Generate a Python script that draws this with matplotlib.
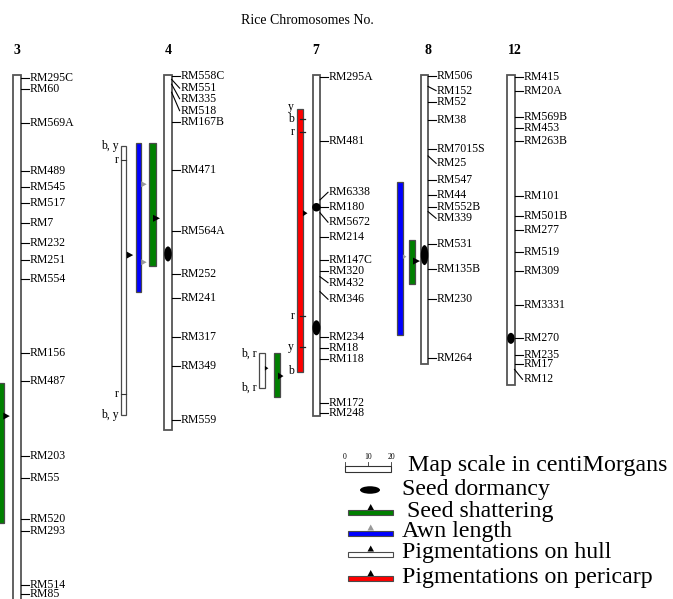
import matplotlib
matplotlib.use("Agg")
import matplotlib.pyplot as plt
from matplotlib.patches import Rectangle, Ellipse, Polygon

FONT = ["Liberation Serif", "DejaVu Serif"]

# ---------------- data (cM from top of each linkage group) ----------------
chr3_names = ["RM295C", "RM60", "RM569A", "RM489", "RM545", "RM517", "RM7", "RM232",
              "RM251", "RM554", "RM156", "RM487", "RM203", "RM55", "RM520", "RM293",
              "RM514", "RM85"]
chr3_pos = [1.2, 6.1, 20.9, 41.6, 48.6, 55.7, 64.2, 73.0, 80.4, 88.8, 121.0, 133.0,
            165.7, 175.2, 193.0, 198.3, 221.7, 225.7]
chr3_len = 234

chr4_names = ["RM558C", "RM551", "RM335", "RM518", "RM167B", "RM471", "RM564A", "RM252",
              "RM241", "RM317", "RM349", "RM559"]
chr4_pos = [0.4, 1.9, 4.0, 7.5, 20.3, 41.3, 67.8, 86.7, 97.1, 114.0, 126.5, 150.0]
chr4_len = 154.3

chr7_names = ["RM295A", "RM481", "RM6338", "RM180", "RM5672", "RM214", "RM147C", "RM320",
              "RM432", "RM346", "RM234", "RM18", "RM118", "RM172", "RM248"]
chr7_pos = [1.0, 28.6, 54.3, 57.3, 59.9, 70.3, 80.4, 85.2, 87.7, 94.2, 114.0, 118.6,
            123.5, 142.7, 147.1]
chr7_len = 148.3

chr8_names = ["RM506", "RM152", "RM52", "RM38", "RM7015S", "RM25", "RM547", "RM44",
              "RM552B", "RM339", "RM531", "RM135B", "RM230", "RM264"]
chr8_pos = [0.4, 5.0, 11.6, 19.6, 32.3, 35.2, 45.7, 52.2, 57.3, 59.4, 73.6, 84.5,
            97.5, 122.9]
chr8_len = 125.7

chr12_names = ["RM415", "RM20A", "RM569B", "RM453", "RM263B", "RM101", "RM501B", "RM277",
               "RM519", "RM309", "RM3331", "RM270", "RM235", "RM17", "RM12"]
chr12_pos = [1.0, 7.0, 18.4, 23.2, 28.6, 52.6, 61.3, 67.4, 76.8, 85.1, 100.0, 114.2,
             121.9, 125.8, 128.0]
chr12_len = 134.8

# QTL intervals: chromosome, trait, start cM, end cM, peak(s) cM
qtl_chrom = ["3", "4", "4", "4", "7", "7", "7", "8", "8"]
qtl_trait = ["shatter", "hull", "awn", "shatter", "pericarp", "hull", "shatter", "awn", "shatter"]
qtl_start = [133.9, 30.7, 29.7, 29.7, 14.9, 121.0, 121.0, 46.7, 71.7]
qtl_end = [194.8, 147.8, 94.2, 82.9, 129.0, 136.0, 139.9, 113.0, 91.0]
qtl_peaks = [[148.3], [78.3], [47.5, 81.4], [62.3], [60.1], [127.5], [130.9], [79.0], [80.9]]

# seed dormancy QTL: chromosome, cM
dorm_chrom = ["4", "7", "7", "8", "12"]
dorm_pos = [77.8, 57.5, 109.9, 78.3, 114.5]

# colour-component labels on the pigmentation bars: (bar index, text, cM)
pig_labels = [(1, "b, y", 30.7), (1, "r", 37.0), (1, "r", 138.7), (1, "b, y", 147.8),
              (4, "y", 13.8), (4, "b", 19.3), (4, "r", 24.9), (4, "r", 104.8),
              (4, "y", 118.1), (4, "b", 128.7),
              (5, "b, r", 121.0), (5, "b, r", 136.0)]

legend_labels = ["Map scale in centiMorgans", "Seed dormancy", "Seed shattering",
                 "Awn length", "Pigmentations on hull", "Pigmentations on pericarp"]
scale_ticks = [0, 10, 20]

# ---------------- layout ----------------
PX_PER_CM = 2.3
TOP_PX = 75


def cm(px):
    return (px - TOP_PX) / PX_PER_CM


W, H = 673, 599
fig = plt.figure(figsize=(W / 100, H / 100), dpi=100)
ax = fig.add_axes([0, 0, 1, 1])
ax.set_xlim(0, W)
ax.set_ylim(cm(H), cm(0))
ax.axis("off")

CHR_W = 7.2
chrom_x = {"3": 13.3, "4": 164.4, "7": 312.8, "8": 420.9, "12": 507.3}
chrom_title_x = {"3": 17, "4": 168, "7": 316, "8": 428, "12": 515}

label_shift = {
    "4": {"RM551": 5.7, "RM335": 10.3, "RM518": 15.5},
    "7": {"RM6338": 51.0, "RM5672": 64.0, "RM432": 90.3, "RM346": 97.5},
    "8": {"RM152": 6.8, "RM25": 38.4, "RM339": 62.3},
    "12": {"RM12": 132.3},
}

chroms = {
    "3": (chr3_names, chr3_pos, chr3_len),
    "4": (chr4_names, chr4_pos, chr4_len),
    "7": (chr7_names, chr7_pos, chr7_len),
    "8": (chr8_names, chr8_pos, chr8_len),
    "12": (chr12_names, chr12_pos, chr12_len),
}

EDGE = "#555555"
for key, (names, pos, length) in chroms.items():
    x0 = chrom_x[key]
    ax.add_patch(Rectangle((x0, 0), CHR_W, length, facecolor="white",
                           edgecolor=EDGE, lw=1.3, zorder=2))
    xr = x0 + CHR_W
    shifts = label_shift.get(key, {})
    for n, p in zip(names, pos):
        lab = shifts.get(n, p)
        ax.plot([xr, xr + 8], [p, lab], color="black", lw=0.8, zorder=3)
        ax.text(xr + 9, lab, n, ha="left", va="center", fontsize=8.5, family=FONT,
                zorder=4)
    ax.text(chrom_title_x[key], cm(50), key, ha="center", va="center",
            fontsize=10, fontweight="bold", family=FONT)

ax.text(307, cm(20), "Rice Chromosomes No.", ha="center", va="center",
        fontsize=10, family=FONT)

colors = {"shatter": "#008000", "awn": "#0000ff", "hull": "white", "pericarp": "#ff0000"}
arrow_col = {"shatter": "black", "awn": "#999999", "hull": "black", "pericarp": "black"}

# bar x layout (left, width, arrow x start, arrow length, arrow half-height px)
bar_layout = [(-2.0, 6.0, 3.3, 6.5, 3.5),
              (120.7, 5.5, 126.7, 6.5, 3.5),
              (135.7, 5.2, 141.2, 5.5, 3.0),
              (149.3, 6.4, 153.0, 7.0, 3.5),
              (296.7, 6.0, 302.9, 4.6, 3.0),
              (259.3, 5.4, 264.9, 3.5, 2.3),
              (274.0, 6.0, 278.0, 5.5, 3.5),
              (397.3, 5.4, 402.9, 3.5, 2.3),
              (409.3, 5.8, 413.0, 7.0, 3.5)]

for i, (c, t, s, e, pk) in enumerate(zip(qtl_chrom, qtl_trait, qtl_start, qtl_end, qtl_peaks)):
    bx, bw, axs, al, ah = bar_layout[i]
    ax.add_patch(Rectangle((bx, s), bw, e - s, facecolor=colors[t],
                           edgecolor="#4a4a4a", lw=0.9, zorder=2))
    for p in pk:
        hh = ah / PX_PER_CM
        ax.add_patch(Polygon([(axs, p - hh), (axs, p + hh), (axs + al, p)],
                             closed=True, facecolor=arrow_col[t], edgecolor="none",
                             zorder=3))

for (bi, txt, p) in pig_labels:
    bx, bw = bar_layout[bi][0], bar_layout[bi][1]
    t = qtl_trait[bi]
    ax.text(bx - 2.5, p, txt, ha="right", va="center", fontsize=8.5, family=FONT)
    if t == "hull" and txt == "r":
        ax.plot([bx, bx + bw], [p, p], color="#333333", lw=0.8, zorder=3)
    if t == "pericarp" and abs(p - qtl_start[bi]) > 2 and abs(p - qtl_end[bi]) > 1:
        ax.plot([bx + bw / 2, bx + bw + 2.5], [p, p], color="#222222", lw=0.9, zorder=3)

dorm_size = [(7.5, 15), (8.5, 8.5), (8, 15), (7.5, 20), (7.5, 11)]
for (c, p), (ew, eh) in zip(zip(dorm_chrom, dorm_pos), dorm_size):
    cx = chrom_x[c] + CHR_W / 2
    ax.add_patch(Ellipse((cx, p), ew, eh / PX_PER_CM, facecolor="black",
                         edgecolor="none", zorder=5))

# ---------------- legend ----------------
LF = 17.2
# scale bar
sx0 = 345
ax.add_patch(Rectangle((sx0, cm(466)), scale_ticks[-1] * PX_PER_CM, cm(472) - cm(466),
                       facecolor="white", edgecolor="#333333", lw=0.8))
for tk in scale_ticks:
    tx = sx0 + tk * PX_PER_CM
    ax.plot([tx, tx], [cm(462), cm(466)], color="#333333", lw=0.6)
    ax.text(tx, cm(457), str(tk), ha="center", va="center", fontsize=5.5, family=FONT)
ax.text(408, cm(465), legend_labels[0], ha="left", va="center", fontsize=LF, family=FONT)

ax.add_patch(Ellipse((370, cm(490)), 20, 7.5 / PX_PER_CM, facecolor="black",
                     edgecolor="none"))
ax.text(401.5, cm(489), legend_labels[1], ha="left", va="center", fontsize=LF, family=FONT)

leg_rows = [("shatter", 510, 407, legend_labels[2]),
            ("awn", 530.5, 401.5, legend_labels[3]),
            ("hull", 551.5, 402.5, legend_labels[4]),
            ("pericarp", 576, 402.5, legend_labels[5])]
for t, ytop, tx, lbl in leg_rows:
    ax.add_patch(Rectangle((348.3, cm(ytop)), 44.4, 5.3 / PX_PER_CM,
                           facecolor=colors[t], edgecolor="#4a4a4a", lw=0.8))
    yb = cm(ytop)
    ax.add_patch(Polygon([(367.5, yb), (374, yb), (370.7, yb - 6 / PX_PER_CM)],
                         closed=True, facecolor=arrow_col[t], edgecolor="none"))
    ax.text(tx, cm(ytop + 1), lbl, ha="left", va="center", fontsize=LF, family=FONT)

fig.savefig("out.png", dpi=100)
